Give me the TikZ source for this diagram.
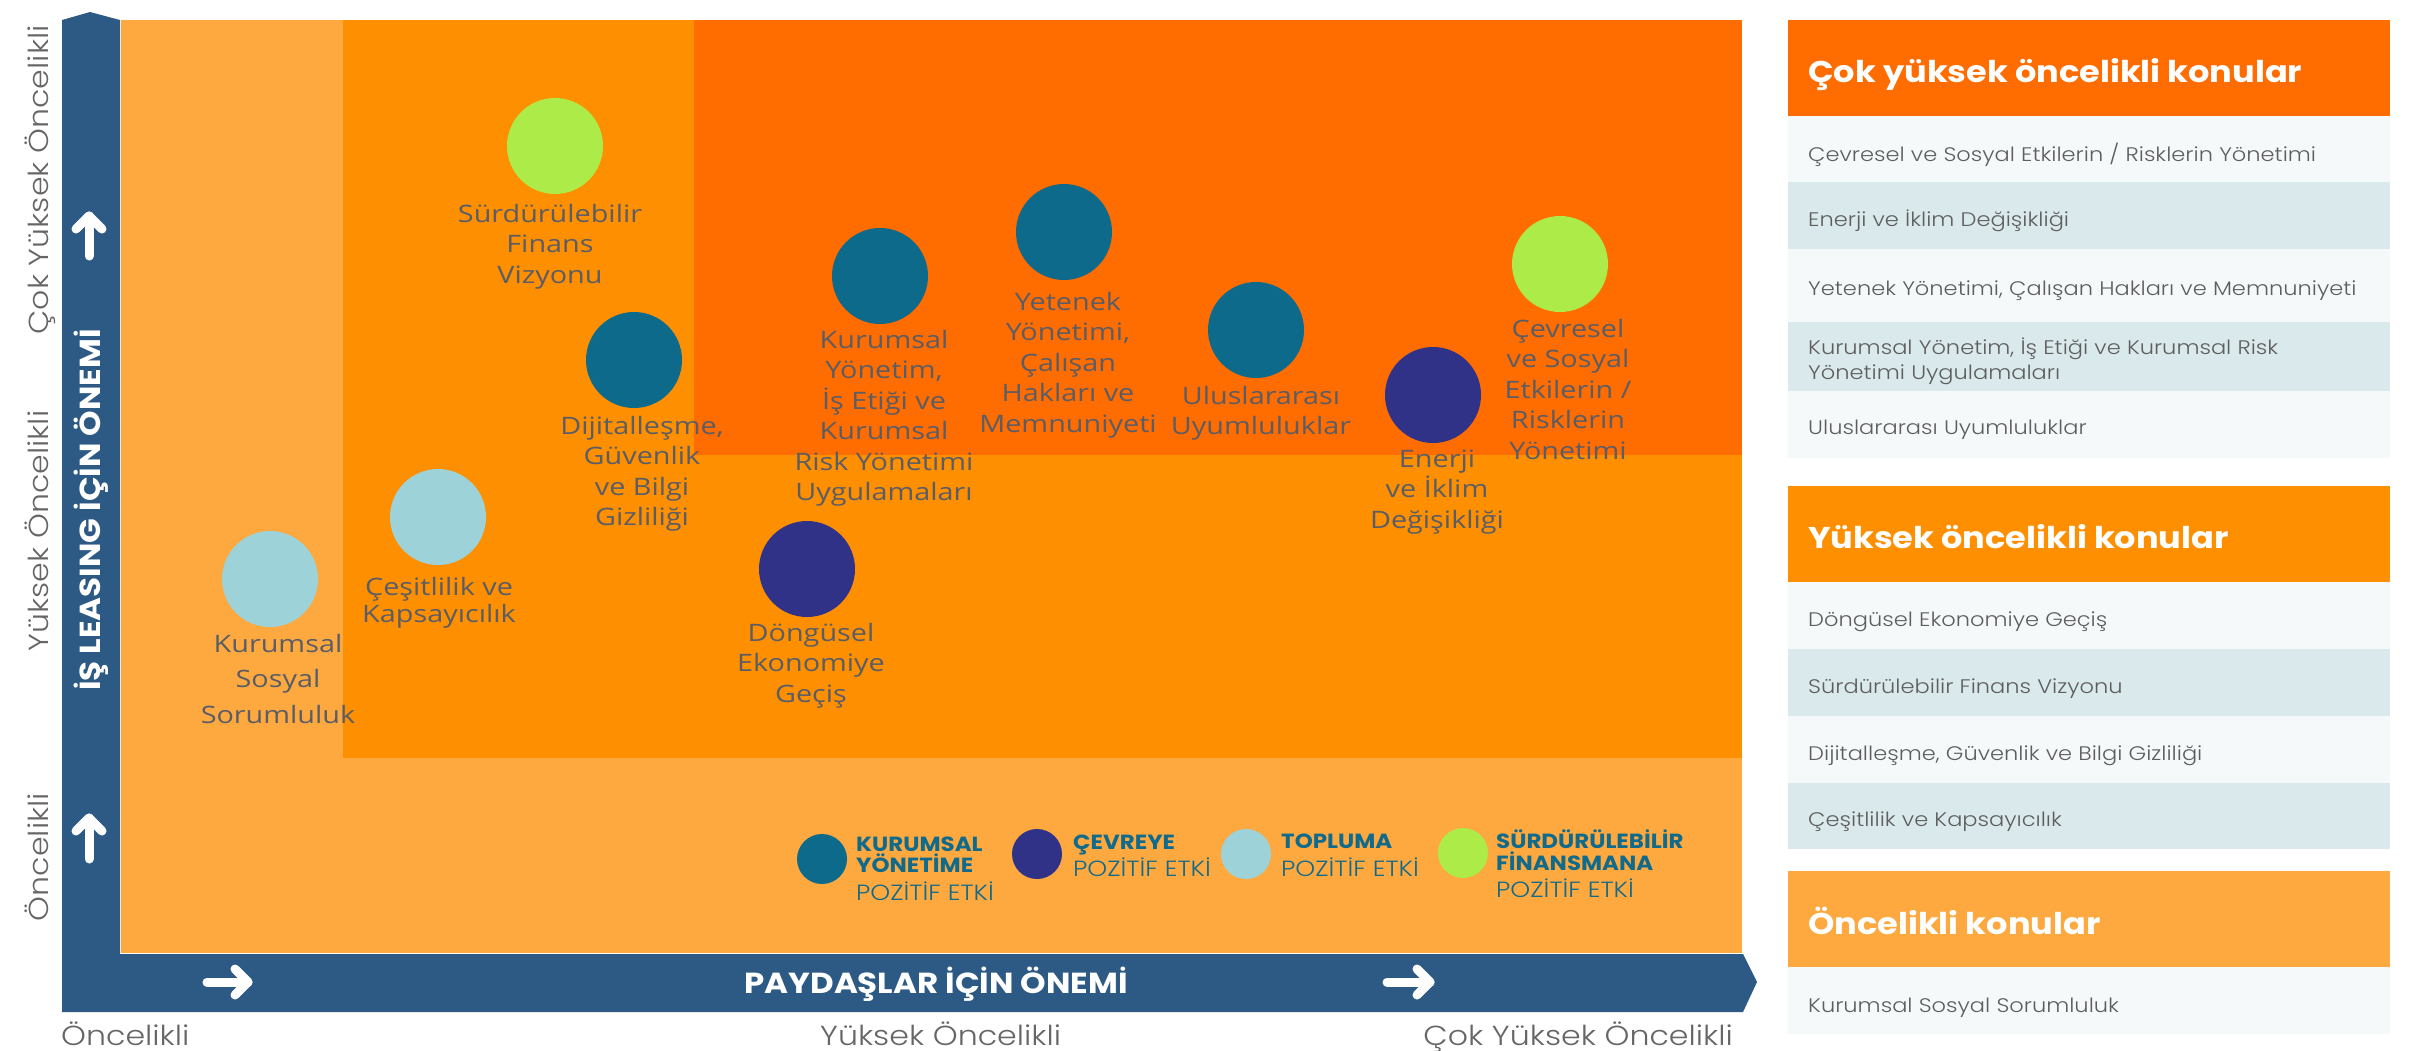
\documentclass[tikz,border=0pt]{standalone}
\usepackage{fontspec}
\newfontfamily\lblfont[FakeStretch=1.2]{Open Sans}
\newfontfamily\popfont[FakeStretch=1.12]{Poppins}
\IfFontExistsTF{Poppins Light}{\newfontfamily\poplight[FakeStretch=1.15]{Poppins Light}}{\newfontfamily\poplight[FakeStretch=1.15]{Poppins}}
\newcommand\lblstrut{\rule{0pt}{24pt}}
\definecolor{dorange}{HTML}{FF6C00}
\definecolor{morange}{HTML}{FD8F00}
\definecolor{lorange}{HTML}{FEA940}
\definecolor{barblue}{HTML}{2D5A84}
\definecolor{cteal}{HTML}{0E6A8B}
\definecolor{cnavy}{HTML}{2F3287}
\definecolor{clblue}{HTML}{9DD2D8}
\definecolor{cgreen}{HTML}{ADEB48}
\definecolor{lbltext}{HTML}{5A5D66}
\definecolor{rowlight}{HTML}{F5F9FA}
\definecolor{rowalt}{HTML}{DAE9EC}
\definecolor{paneltext}{HTML}{5E5E5E}
\definecolor{axistext}{HTML}{666666}
\definecolor{legteal}{HTML}{0F6A8B}
\tikzset{
  dot/.style={circle, minimum size=96pt, inner sep=0pt, draw=none},
  legdot/.style={circle, minimum size=50pt, inner sep=0pt, draw=none},
  lbl/.style={anchor=north, align=center, inner sep=0pt, text=lbltext, font=\lblfont\fontsize{24}{30.5}\selectfont},
  legb/.style={anchor=base west, inner sep=0pt, text=legteal, font=\popfont\bfseries\fontsize{20.5}{21}\selectfont},
  legl/.style={anchor=base west, inner sep=0pt, text=legteal, font=\poplight\fontsize{22}{22}\selectfont},
  axl/.style={inner sep=0pt, text=axistext, font=\poplight\fontsize{27.5}{28}\selectfont},
  axb/.style={inner sep=0pt, text=white, font=\popfont\bfseries\fontsize{29}{29}\selectfont},
  hdr/.style={anchor=base west, inner sep=0pt, text=white, font=\popfont\bfseries\fontsize{30}{30}\selectfont},
  rowt/.style={anchor=base west, inner sep=0pt, text=paneltext, font=\poplight\fontsize{19.6}{25}\selectfont},
  warrow/.style={draw=white, line width=9pt, line cap=round, line join=round}
}
\begin{document}
\begin{tikzpicture}[x=1pt, y=-1pt]
\useasboundingbox (0,0) rectangle (2427,1050);
\fill[white] (0,0) rectangle (2427,1050);
% regions
\fill[lorange] (121,20) rectangle (1742,953);
\fill[morange] (343,20) rectangle (1742,758);
\fill[dorange] (694,20) rectangle (1742,455);
% axis bar
\fill[barblue] (62,1012) -- (62,20) -- (90,12) -- (120,20) -- (120,954) -- (1743,954) -- (1757,982) -- (1743,1012) -- cycle;
% arrows in bar
\draw[warrow] (89,256) -- (89,216);
\draw[warrow] (76,229) -- (89,216) -- (102,229);
\draw[warrow] (89,859) -- (89,818);
\draw[warrow] (76,831) -- (89,818) -- (102,831);
\draw[warrow] (207,982) -- (248,982);
\draw[warrow] (235,969) -- (248,982) -- (235,995);
\draw[warrow] (1387,982) -- (1430,982);
\draw[warrow] (1417,969) -- (1430,982) -- (1417,995);
% axis texts
\node[axb, rotate=90, anchor=base] (yaxis) at (100,510) {İŞ LEASING İÇİN ÖNEMİ};
\node[axb, anchor=base] (xaxis) at (936,993) {PAYDAŞLAR İÇİN ÖNEMİ};
\node[axl, rotate=90, anchor=base] (y3) at (48,180) {Çok Yüksek Öncelikli};
\node[axl, rotate=90, anchor=base] (y2) at (48,531) {Yüksek Öncelikli};
\node[axl, rotate=90, anchor=base] (y1) at (48,857) {Öncelikli};
\node[axl, anchor=base west] (x1) at (61,1045) {Öncelikli};
\node[axl, anchor=base west] (x2) at (820,1045) {Yüksek Öncelikli};
\node[axl, anchor=base east] (x3) at (1733,1045) {Çok Yüksek Öncelikli};
% topic circles
\node[dot, fill=cgreen] (c-sfv) at (555,146) {};
\node[dot, fill=cteal] (c-dij) at (634,360) {};
\node[dot, fill=cteal] (c-ky) at (880,276) {};
\node[dot, fill=cteal] (c-yet) at (1064,232) {};
\node[dot, fill=cteal] (c-ulu) at (1256,330) {};
\node[dot, fill=cnavy] (c-ene) at (1433,395) {};
\node[dot, fill=cgreen] (c-cev) at (1560,264) {};
\node[dot, fill=cnavy] (c-don) at (807,569) {};
\node[dot, fill=clblue] (c-ces) at (438,517) {};
\node[dot, fill=clblue] (c-kss) at (270,579) {};
% topic labels
\node[lbl] (t-sfv) at (550,198) {\lblstrut Sürdürülebilir\\Finans\\Vizyonu};
\node[lbl] (t-dij) at (642,410) {\lblstrut Dijitalleşme,\\Güvenlik\\ve Bilgi\\Gizliliği};
\node[lbl] (t-ky) at (884,324) {\lblstrut Kurumsal\\Yönetim,\\İş Etiği ve\\Kurumsal\\Risk Yönetimi\\Uygulamaları};
\node[lbl] (t-yet) at (1068,286) {\lblstrut Yetenek\\Yönetimi,\\Çalışan\\Hakları ve\\Memnuniyeti};
\node[lbl] (t-ulu) at (1261,380) {\lblstrut Uluslararası\\Uyumluluklar};
\node[lbl] (t-ene) at (1437,443) {\lblstrut Enerji\\ve İklim\\Değişikliği};
\node[lbl] (t-cev) at (1568,313) {\lblstrut Çevresel\\ve Sosyal\\Etkilerin /\\Risklerin\\Yönetimi};
\node[lbl] (t-don) at (811,617) {\lblstrut Döngüsel\\Ekonomiye\\Geçiş};
\node[lbl, font=\lblfont\fontsize{24}{27}\selectfont] (t-ces) at (439,571) {\lblstrut Çeşitlilik ve\\Kapsayıcılık};
\node[lbl, font=\lblfont\fontsize{24}{35.5}\selectfont] (t-kss) at (278,628) {\lblstrut Kurumsal\\Sosyal\\Sorumluluk};
% legend
\node[legdot, fill=cteal] (l-ky) at (822,859) {};
\node[legb] (lt-ky1) at (856,851) {KURUMSAL};
\node[legb] (lt-ky2) at (856,872) {YÖNETİME};
\node[legl] (lt-ky3) at (856,900) {POZİTİF ETKİ};
\node[legdot, fill=cnavy] (l-cev) at (1037,854) {};
\node[legb] (lt-cev1) at (1073,849) {ÇEVREYE};
\node[legl] (lt-cev2) at (1073,876) {POZİTİF ETKİ};
\node[legdot, fill=clblue] (l-top) at (1246,854) {};
\node[legb] (lt-top1) at (1281,848) {TOPLUMA};
\node[legl] (lt-top2) at (1281,876) {POZİTİF ETKİ};
\node[legdot, fill=cgreen] (l-sf) at (1463,853) {};
\node[legb] (lt-sf1) at (1496,848) {SÜRDÜRÜLEBİLİR};
\node[legb] (lt-sf2) at (1496,870) {FİNANSMANA};
\node[legl] (lt-sf3) at (1496,897) {POZİTİF ETKİ};
% right panel
\fill[dorange] (1788,20) rectangle (2390,116);
\fill[rowlight] (1788,116) rectangle (2390,182);
\fill[rowalt] (1788,182) rectangle (2390,249);
\fill[rowlight] (1788,249) rectangle (2390,322);
\fill[rowalt] (1788,322) rectangle (2390,391);
\fill[rowlight] (1788,391) rectangle (2390,458);
\fill[morange] (1788,486) rectangle (2390,582);
\fill[rowlight] (1788,582) rectangle (2390,649);
\fill[rowalt] (1788,649) rectangle (2390,716);
\fill[rowlight] (1788,716) rectangle (2390,783);
\fill[rowalt] (1788,783) rectangle (2390,849);
\fill[lorange] (1788,871) rectangle (2390,967);
\fill[rowlight] (1788,967) rectangle (2390,1034);
\node[hdr] (h1) at (1808,82) {Çok yüksek öncelikli konular};
\node[rowt] (r11) at (1808,161) {Çevresel ve Sosyal Etkilerin / Risklerin Yönetimi};
\node[rowt] (r12) at (1808,226) {Enerji ve İklim Değişikliği};
\node[rowt] (r13) at (1808,295) {Yetenek Yönetimi, Çalışan Hakları ve Memnuniyeti};
\node[rowt] (r14a) at (1808,354) {Kurumsal Yönetim, İş Etiği ve Kurumsal Risk};
\node[rowt] (r14b) at (1808,379) {Yönetimi Uygulamaları};
\node[rowt] (r15) at (1808,434) {Uluslararası Uyumluluklar};
\node[hdr] (h2) at (1808,548) {Yüksek öncelikli konular};
\node[rowt] (r21) at (1808,626) {Döngüsel Ekonomiye Geçiş};
\node[rowt] (r22) at (1808,693) {Sürdürülebilir Finans Vizyonu};
\node[rowt] (r23) at (1808,760) {Dijitalleşme, Güvenlik ve Bilgi Gizliliği};
\node[rowt] (r24) at (1808,826) {Çeşitlilik ve Kapsayıcılık};
\node[hdr] (h3) at (1808,934) {Öncelikli konular};
\node[rowt] (r31) at (1808,1012) {Kurumsal Sosyal Sorumluluk};
\end{tikzpicture}
\end{document}
